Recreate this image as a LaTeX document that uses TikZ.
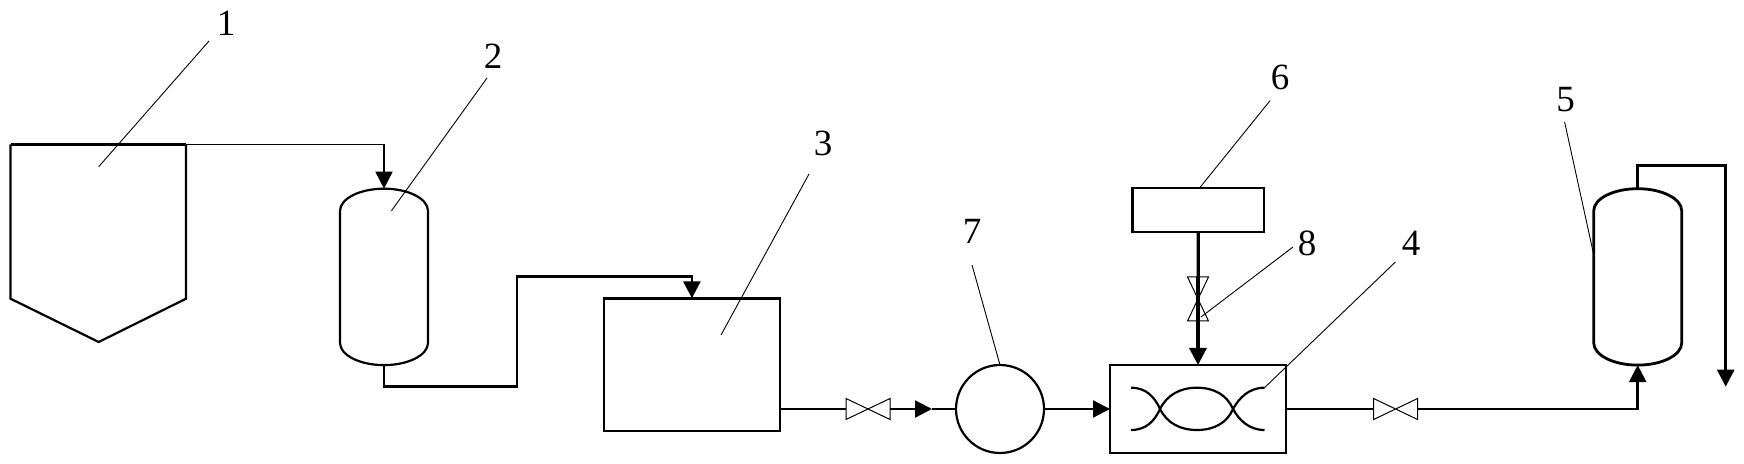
\documentclass[tikz,border=0pt]{standalone}
\usepackage{fontspec}
\setmainfont{Liberation Serif}
\usetikzlibrary{arrows.meta}

\tikzset{
	pipe/.style={line width=1.1pt},
	thinpipe/.style={line width=0.8pt},
	heavy/.style={line width=1.6pt},
	leader/.style={line width=0.45pt},
	flow/.style={-{Triangle[length=8.5pt,width=8.5pt]}},
	box/.style={draw, line width=1.1pt, inner sep=0pt, outer sep=0pt},
	numlabel/.style={font=\fontsize{18.5}{20}\selectfont, inner sep=0pt},
	vessel/.pic={
		\coordinate (-top) at (0,-88.2);
		\coordinate (-bot) at (0,88.2);
		\draw[pic actions] (-44,-66) arc[start angle=180, end angle=360, x radius=44, y radius=22.2]
			-- (44,66) arc[start angle=0, end angle=180, x radius=44, y radius=22.2] -- cycle;
	},
	valve/.pic={
		\coordinate (-in) at (-22,0);
		\coordinate (-out) at (22,0);
		\fill[white] (-22,-10.5) -- (22,10.5) -- (22,-10.5) -- (-22,10.5) -- cycle;
		\draw[line width=0.5pt] (-22,-10.5) -- (22,10.5) -- (22,-10.5) -- (-22,10.5) -- cycle;
	}
}

\begin{document}
\begin{tikzpicture}[x=0.5pt, y=-0.5pt]
	\useasboundingbox[fill=white] (0,0) rectangle (1744,464);
	
	% tank
	\coordinate (tank tl) at (10.5,144.5);
	\coordinate (tank tr) at (186,144.5);
	\draw[pipe] (tank tl) -- (10.5,298.7) -- (98.7,342) -- (186,298.7) -- (tank tr);
	\draw[heavy] (tank tl) -- (tank tr);
	
	% vessels
	\pic[pipe] (ves2) at (384,276.9) {vessel};
	\pic[line width=1.4pt] (ves5) at (1637.7,276.9) {vessel};
	
	% boxes and pump
	\node[box, minimum width=88.2pt, minimum height=66.4pt] (box3) at (691.9,364.7) {};
	\node[box, line width=1.4pt, minimum width=65.7pt, minimum height=22pt] (box6) at (1198.3,210) {};
	\node[box, minimum width=88pt, minimum height=44pt] (box4) at (1198,409) {};
	\node[box, circle, minimum size=44pt] (pump) at (1000,409) {};
	\draw[heavy] (box3.north west) -- (box3.north east);
	
	% mixer
	\draw[pipe] (1131,387.7) .. controls (1147,387.7) and (1155,398) .. (1160,409)
		.. controls (1167,423) and (1180,430) .. (1197,430)
		.. controls (1214,430) and (1227,423) .. (1233,409)
		.. controls (1239,398) and (1249,387.7) .. (1264.5,387.7);
	\draw[pipe] (1131,430) .. controls (1147,430) and (1155,420) .. (1160,409)
		.. controls (1167,395) and (1180,387.7) .. (1197,387.7)
		.. controls (1214,387.7) and (1227,395) .. (1233,409)
		.. controls (1239,420) and (1249,430) .. (1264.5,430);
	
	% valves
	\pic (val1) at (868,409) {valve};
	\pic (val2) at (1395.6,409) {valve};
	\pic[rotate=90] (val8) at (1198,299) {valve};
	
	% pipes
	\coordinate (bend2) at (517,386.7);
	\coordinate (bend3) at (517,276.3);
	\coordinate (mid1) at (932,409);
	\coordinate (turn5) at (1725.7,165.7);
	\coordinate (drain) at (1725.7,386.7);
	\draw[thinpipe, flow] (tank tr) -| (ves2-top);
	\draw[line width=1.4pt, flow] (ves2-bot) |- (bend2) -- (bend3) -| (box3.north);
	\draw[pipe] (box3.east |- val1-in) -- (val1-in);
	\draw[pipe, flow] (val1-out) -- (mid1);
	\draw[pipe] (mid1) -- (pump.west);
	\draw[pipe, flow] (pump.east) -- (box4.west);
	\draw[heavy] (box6.south) -- (val8-in);
	\draw[heavy, flow] (val8-in) -- (val8-out) -- (box4.north);
	\draw[pipe] (box4.east) -- (val2-in);
	\draw[line width=1.3pt, flow] (val2-out) -| (ves5-bot);
	\draw[line width=1.4pt, flow] (ves5-top) |- (turn5) -- (drain);
	
	% numbers and their leaders
	\foreach \n/\lx/\ly/\ax/\ay/\bx/\by in {
		1/226/23/209/41/98.7/166.7,
		2/493/56/487/78/391.5/210.7,
		3/823/143/809/174/721/335,
		4/1411/243/1395.4/262/1264.5/387.7,
		5/1565.7/99.3/1564.6/122/1594/256,
		6/1280/77/1270/100.7/1199.5/188,
		7/972/231/972/265/1000/365,
		8/1307/243/1293/247/1201/317}{
		\node[numlabel] (lab\n) at (\lx,\ly) {\n};
		\coordinate (from\n) at (\ax,\ay);
		\coordinate (to\n) at (\bx,\by);
		\draw[leader] (from\n) -- (to\n);
	}
	
\end{tikzpicture}
\end{document}
